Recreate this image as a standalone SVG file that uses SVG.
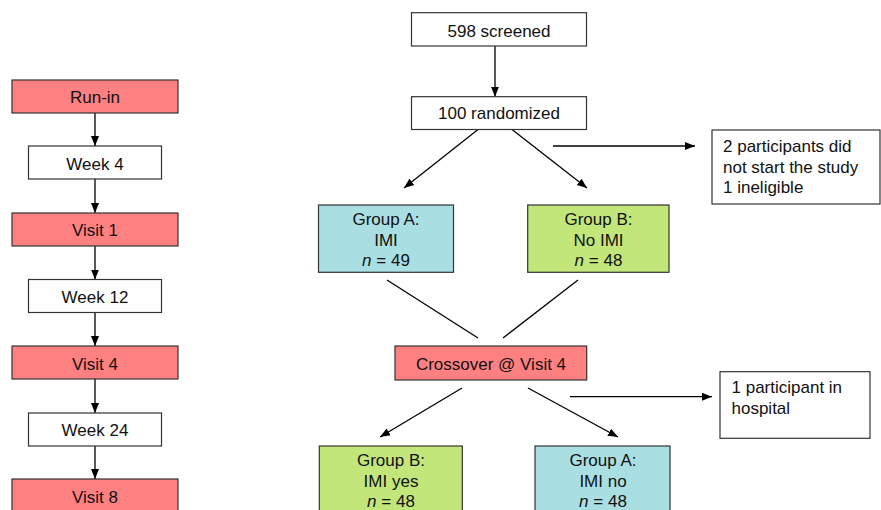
<svg xmlns="http://www.w3.org/2000/svg" width="881" height="510" viewBox="0 0 881 510">
<defs>
<marker id="ah" markerUnits="userSpaceOnUse" markerWidth="10" markerHeight="10" viewBox="0 0 10 10" refX="10" refY="5" orient="auto">
<path d="M0,1 L10,5 L0,9 z" fill="#000"/>
</marker>
</defs>
<style>
.box{stroke:#333;stroke-width:1.2}
.red{fill:#FF8080}.white{fill:#fff}.cyan{fill:#A9DFE3}.green{fill:#C3E67B}
text{font-family:"Liberation Sans",Arial,sans-serif;font-size:17px;fill:#111}
.c{text-anchor:middle}
.ln{stroke:#000;stroke-width:1.3;fill:none}
.ar{marker-end:url(#ah)}
</style>
<rect width="881" height="510" fill="#fff"/>
<g id="connectors">
<line class="ln ar" x1="95" y1="113" x2="95" y2="146"/>
<line class="ln ar" x1="95" y1="179" x2="95" y2="213"/>
<line class="ln ar" x1="95" y1="246" x2="95" y2="279.5"/>
<line class="ln ar" x1="95" y1="313" x2="95" y2="346"/>
<line class="ln ar" x1="95" y1="379" x2="95" y2="413"/>
<line class="ln ar" x1="95" y1="446" x2="95" y2="479"/>
<line class="ln ar" x1="495" y1="46" x2="495" y2="96.7"/>
<line class="ln ar" x1="478" y1="129.5" x2="404" y2="188"/>
<line class="ln ar" x1="512" y1="129.5" x2="587" y2="188"/>
<line class="ln ar" x1="553" y1="146" x2="695" y2="146"/>
<line class="ln" x1="387" y1="280" x2="478" y2="338"/>
<line class="ln" x1="578" y1="280" x2="503" y2="338"/>
<line class="ln ar" x1="462" y1="388" x2="380" y2="437"/>
<line class="ln ar" x1="528" y1="388" x2="618" y2="437"/>
<line class="ln ar" x1="570" y1="396.7" x2="712" y2="396.7"/>
</g>
<g id="runin"><rect class="box red" x="12" y="80" width="166" height="33"/><text class="c" x="95" y="102.5">Run-in</text></g>
<g id="week4"><rect class="box white" x="28.5" y="146" width="133" height="33"/><text class="c" x="95" y="169.5">Week 4</text></g>
<g id="visit1"><rect class="box red" x="12" y="213" width="166" height="33"/><text class="c" x="95" y="236">Visit 1</text></g>
<g id="week12"><rect class="box white" x="28.5" y="279.5" width="133" height="33"/><text class="c" x="95" y="302.5">Week 12</text></g>
<g id="visit4"><rect class="box red" x="12" y="346" width="166" height="33"/><text class="c" x="95" y="369.5">Visit 4</text></g>
<g id="week24"><rect class="box white" x="28.5" y="413" width="133" height="33"/><text class="c" x="95" y="436">Week 24</text></g>
<g id="visit8"><rect class="box red" x="12" y="479" width="166" height="40"/><text class="c" x="95" y="502.5">Visit 8</text></g>
<g id="screened"><rect class="box white" x="411.5" y="12.7" width="175" height="33.3"/><text class="c" x="499" y="36.5">598 screened</text></g>
<g id="randomized"><rect class="box white" x="411.5" y="96.7" width="175" height="32.8"/><text class="c" x="499" y="119">100 randomized</text></g>
<g id="excluded"><rect class="box white" x="712" y="130" width="168" height="74"/>
<text x="723" y="152">2 participants did</text><text x="723" y="172.5">not start the study</text><text x="723" y="193">1 ineligible</text></g>
<g id="groupA1"><rect class="box cyan" x="318.5" y="205" width="135" height="67.3"/>
<text class="c" x="386" y="225">Group A:</text><text class="c" x="386" y="245.5">IMI</text><text class="c" x="386" y="266"><tspan font-style="italic">n</tspan> = 49</text></g>
<g id="groupB1"><rect class="box green" x="527.7" y="205" width="141.3" height="67.3"/>
<text class="c" x="598.5" y="225">Group B:</text><text class="c" x="598.5" y="245.5">No IMI</text><text class="c" x="598.5" y="266"><tspan font-style="italic">n</tspan> = 48</text></g>
<g id="crossover"><rect class="box red" x="395" y="346" width="191.7" height="34"/><text class="c" x="491" y="370">Crossover @ Visit 4</text></g>
<g id="hospital"><rect class="box white" x="720" y="371.7" width="150" height="66.6"/>
<text x="731.5" y="393">1 participant in</text><text x="731.5" y="413.5">hospital</text></g>
<g id="groupB2"><rect class="box green" x="319.3" y="446" width="143" height="70"/>
<text class="c" x="391" y="466">Group B:</text><text class="c" x="391" y="486.5">IMI yes</text><text class="c" x="391" y="507"><tspan font-style="italic">n</tspan> = 48</text></g>
<g id="groupA2"><rect class="box cyan" x="535" y="446" width="135" height="70"/>
<text class="c" x="603" y="466">Group A:</text><text class="c" x="603" y="486.5">IMI no</text><text class="c" x="603" y="507"><tspan font-style="italic">n</tspan> = 48</text></g>
</svg>
